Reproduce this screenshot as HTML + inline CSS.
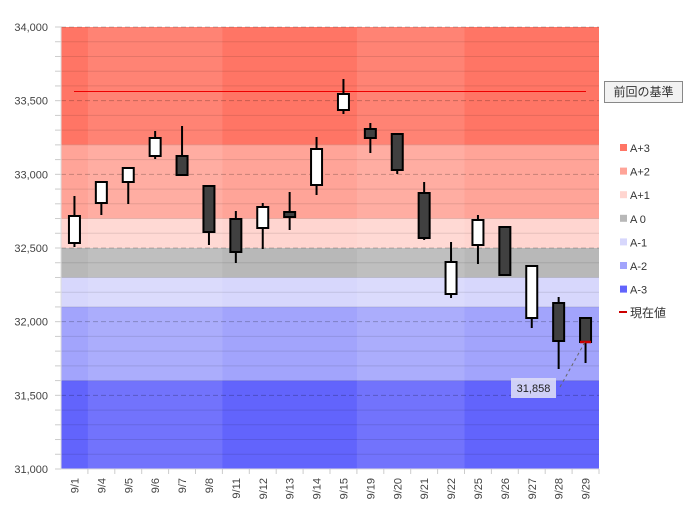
<!DOCTYPE html>
<html><head><meta charset="utf-8"><style>
body{margin:0;background:#fff;width:691px;height:516px;overflow:hidden}
svg{display:block;font-family:"Liberation Sans","Noto Sans CJK JP",sans-serif}
</style></head><body>
<svg id="s" width="691" height="516" xmlns="http://www.w3.org/2000/svg"></svg>
<script>
const s=document.getElementById('s');
const L=61,R=599,T=27,B=469,k=(B-T)/3000;
const y=v=>T+(34000-v)*k;
let h='';
const bands=[[33200,34000,'#ff7565'],[32700,33200,'#ffa498'],[32500,32700,'#ffd5d0'],[32300,32500,'#b8b8b8'],[32100,32300,'#d7d7fc'],[31600,32100,'#a2a4fc'],[31000,31600,'#6264fc']];
for(const b of bands)h+=`<rect x="${L}" y="${y(b[1])}" width="${R-L}" height="${y(b[0])-y(b[1])}" fill="${b[2]}"/>`;
const cw=(R-L)/20;
// lighter columns
[[1,6],[11,15]].forEach(([a,b])=>{h+=`<rect x="${L+a*cw}" y="${T}" width="${(b-a)*cw}" height="${B-T}" fill="#fff" opacity="0.1"/>`});
for(let v=31000;v<=34000;v+=100){const yy=y(v);
 if(v%500==0){h+=`<line x1="${L}" x2="${R}" y1="${yy}" y2="${yy}" stroke="rgba(0,0,0,0.22)" stroke-dasharray="5,3"/>`;
  h+=`<text x="48" y="${yy+4}" font-size="11" fill="#444" text-anchor="end">${v.toLocaleString('en-US')}</text>`;}
 else h+=`<line x1="${L}" x2="${R}" y1="${yy}" y2="${yy}" stroke="rgba(0,0,0,0.1)"/>`;
 h+=`<line x1="55" x2="${L}" y1="${yy}" y2="${yy}" stroke="#ccc"/>`;}
h+=`<line x1="${L}" x2="${L}" y1="${T}" y2="${B}" stroke="#ddd"/><line x1="${L}" x2="${R}" y1="${B}" y2="${B}" stroke="#ddd"/>`;
h+=`<line x1="74" x2="586" y1="91.5" y2="91.5" stroke="#e00" stroke-width="1"/>`;
const labs=['9/1','9/4','9/5','9/6','9/7','9/8','9/11','9/12','9/13','9/14','9/15','9/19','9/20','9/21','9/22','9/25','9/26','9/27','9/28','9/29'];
const c=[[1,216,243,196,247],[1,182,203,182,215],[1,168,182,168,204],[1,138,156,131,159],[0,156,175,126,175],[0,186,232,186,245],[0,219,252,211,263],[1,207,228,203,249],[0,212,217,192,230],[1,149,185,137,195],[1,94,110,79,114],[0,129,138,123,153],[0,134,170,134,174],[0,193,238,182,240],[1,262,294,242,298],[1,220,245,215,264],[0,227,275,227,275],[1,266,318,266,328],[0,303,341,297,369],[0,318,342,318,363]];
c.forEach((d,i)=>{const cx=L+cw*(i+.5);
 h+=`<line x1="${L+cw*(i+1)}" x2="${L+cw*(i+1)}" y1="${B}" y2="${B+5}" stroke="#ccc"/>`;
 h+=`<line x1="${cx}" x2="${cx}" y1="${d[3]}" y2="${d[4]}" stroke="#000" stroke-width="2"/>`;
 h+=`<rect x="${cx-5.5}" y="${d[1]}" width="11" height="${d[2]-d[1]}" fill="${d[0]?'#fff':'#404040'}" stroke="#000" stroke-width="2"/>`;
 h+=`<text transform="translate(${cx+4},478) rotate(-90)" font-size="11" fill="#444" text-anchor="end">${labs[i]}</text>`;});
h+=`<line x1="580" x2="591" y1="342" y2="342" stroke="#c00" stroke-width="2.5"/>`;
h+=`<line x1="560" y1="387" x2="585" y2="342" stroke="#666" stroke-dasharray="3,3"/>`;
h+=`<rect x="511" y="378" width="45" height="20" fill="#dcdcf6" opacity="0.9"/><text x="533.5" y="392" font-size="11" fill="#222" text-anchor="middle">31,858</text>`;
h+=`<rect x="604.5" y="81.5" width="78" height="21" fill="#f2f2f2" stroke="#888"/><text x="643.5" y="96" font-size="12" fill="#333" text-anchor="middle">前回の基準</text>`;
const lg=[['A+3','#ff7565'],['A+2','#ffa498'],['A+1','#ffd5d0'],['A 0','#b8b8b8'],['A-1','#d7d7fc'],['A-2','#a2a4fc'],['A-3','#6264fc']];
lg.forEach((g,i)=>{const yy=148+i*23.6;h+=`<rect x="620" y="${yy-4}" width="7" height="7" fill="${g[1]}"/><text x="630" y="${yy+4}" font-size="11" fill="#333">${g[0]}</text>`});
h+=`<line x1="619" x2="627" y1="312" y2="312" stroke="#c00" stroke-width="2"/><text x="630" y="317" font-size="12" fill="#333">現在値</text>`;
s.innerHTML=h;
</script>
</body></html>
